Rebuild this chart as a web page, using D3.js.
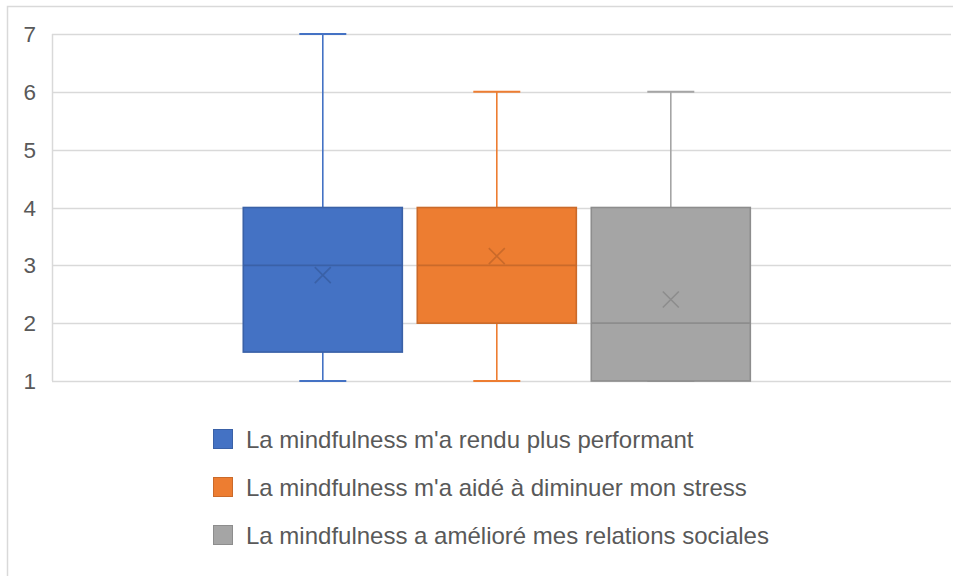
<!DOCTYPE html>
<html>
<head>
<meta charset="utf-8">
<script src="https://cdn.jsdelivr.net/npm/d3@7"></script>
<style>
  html, body { margin: 0; padding: 0; background: #fff; }
  svg { display: block; font-family: "Liberation Sans", Arial, sans-serif; }
</style>
</head>
<body>
<div id="chart"></div>
<script>
// series labels (legend)
var series = [
  "La mindfulness m'a rendu plus performant",
  "La mindfulness m'a aidé à diminuer mon stress",
  "La mindfulness a amélioré mes relations sociales"
];
var colors = ["#4472C4", "#ED7D31", "#A5A5A5"];

// box plot statistics
var mins    = [1, 1, 1];
var q1s     = [1.5, 2, 1];
var medians = [3, 3, 2];
var q3s     = [4, 4, 4];
var maxs    = [7, 6, 6];
var means   = [2.83, 3.16, 2.41];

var yTicks = [1, 2, 3, 4, 5, 6, 7];

var width = 953, height = 576;
var plot = { left: 52, right: 951, top: 34, bottom: 381 };

var svg = d3.select("#chart").append("svg")
  .attr("width", width)
  .attr("height", height);

// chart border (only top and left visible in the crop)
svg.append("path")
  .attr("d", "M7.5," + height + "V6.5H" + width)
  .attr("fill", "none")
  .attr("stroke", "#d9d9d9")
  .attr("stroke-width", 1.5);

var y = d3.scaleLinear().domain([1, 7]).range([plot.bottom, plot.top]);

var x = d3.scaleBand()
  .domain(d3.range(series.length))
  .range([235.8, 757.8])
  .paddingInner(0.086)
  .paddingOuter(0.043);

/* gridlines */
svg.append("g").selectAll("line")
  .data(yTicks)
  .enter().append("line")
  .attr("x1", plot.left)
  .attr("x2", plot.right)
  .attr("y1", function(d) { return Math.round(y(d)) + 0.5; })
  .attr("y2", function(d) { return Math.round(y(d)) + 0.5; })
  .attr("stroke", "#d9d9d9")
  .attr("stroke-width", 1.5);

// left axis line
svg.append("line")
  .attr("x1", plot.left + 0.5).attr("x2", plot.left + 0.5)
  .attr("y1", plot.top).attr("y2", plot.bottom)
  .attr("stroke", "#d9d9d9")
  .attr("stroke-width", 1.5);

/* tick labels */
svg.append("g").selectAll("text")
  .data(yTicks)
  .enter().append("text")
  .attr("x", 36)
  .attr("y", function(d) { return y(d); })
  .attr("dy", "0.36em")
  .attr("text-anchor", "end")
  .attr("fill", "#595959")
  .style("font-size", "22.5px")
  .text(function(d) { return d; });

/* boxes */
var capW = 47;
var boxes = svg.append("g").selectAll("g")
  .data(d3.range(series.length))
  .enter().append("g");

boxes.each(function(i) {
  var g = d3.select(this);
  var cx = x(i) + x.bandwidth() / 2;
  var c = colors[i];
  var dark = d3.color(c).darker(0.45).formatHex();

  // whiskers
  g.append("line")
    .attr("x1", cx).attr("x2", cx)
    .attr("y1", y(maxs[i])).attr("y2", y(q3s[i]))
    .attr("stroke", c).attr("stroke-width", 1.6);
  g.append("line")
    .attr("x1", cx).attr("x2", cx)
    .attr("y1", y(q1s[i])).attr("y2", y(mins[i]))
    .attr("stroke", c).attr("stroke-width", 1.6);
  g.append("line")
    .attr("x1", cx - capW / 2).attr("x2", cx + capW / 2)
    .attr("y1", y(maxs[i])).attr("y2", y(maxs[i]))
    .attr("stroke", c).attr("stroke-width", 2);
  g.append("line")
    .attr("x1", cx - capW / 2).attr("x2", cx + capW / 2)
    .attr("y1", y(mins[i])).attr("y2", y(mins[i]))
    .attr("stroke", c).attr("stroke-width", 2);

  // box
  g.append("rect")
    .attr("x", x(i))
    .attr("y", y(q3s[i]))
    .attr("width", x.bandwidth())
    .attr("height", y(q1s[i]) - y(q3s[i]))
    .attr("fill", c)
    .attr("stroke", dark)
    .attr("stroke-width", 1.6);

  // median
  g.append("line")
    .attr("x1", x(i)).attr("x2", x(i) + x.bandwidth())
    .attr("y1", y(medians[i])).attr("y2", y(medians[i]))
    .attr("stroke", dark).attr("stroke-width", 1.6);

  // mean marker (x)
  var my = y(means[i]), s = 8;
  g.append("path")
    .attr("d", "M" + (cx - s) + "," + (my - s) + "L" + (cx + s) + "," + (my + s) +
               "M" + (cx - s) + "," + (my + s) + "L" + (cx + s) + "," + (my - s))
    .attr("stroke", dark)
    .attr("stroke-width", 1.6)
    .attr("fill", "none");
});

/* legend */
var legend = svg.append("g").selectAll("g")
  .data(series)
  .enter().append("g")
  .attr("transform", function(d, i) { return "translate(213," + (439 + i * 48) + ")"; });

legend.append("rect")
  .attr("x", 0.5).attr("y", -9.5)
  .attr("width", 19).attr("height", 19)
  .attr("fill", function(d, i) { return colors[i]; })
  .attr("stroke", function(d, i) { return d3.color(colors[i]).darker(0.45).formatHex(); })
  .attr("stroke-width", 1);

legend.append("text")
  .attr("x", 33)
  .attr("dy", "0.36em")
  .attr("fill", "#595959")
  .style("font-size", "24px")
  .text(function(d) { return d; });
</script>
</body>
</html>
